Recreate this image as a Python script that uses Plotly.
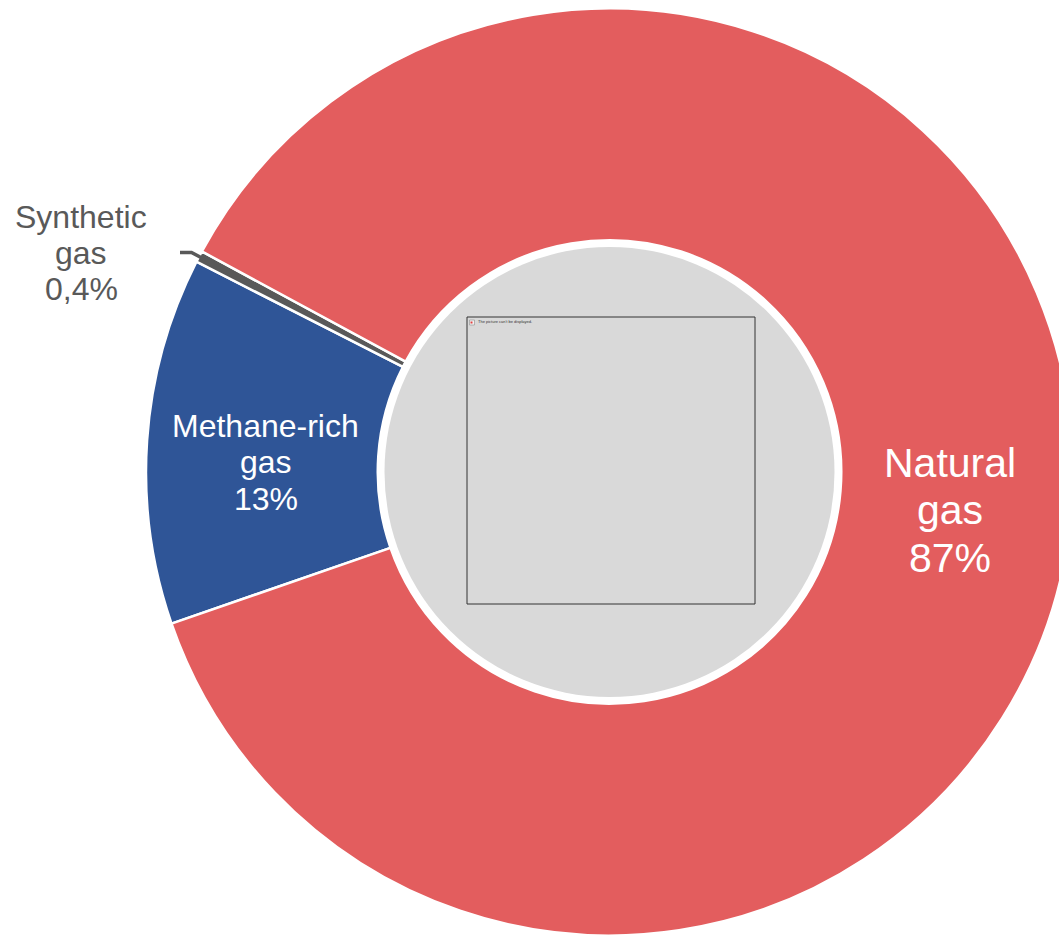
import math
import plotly.graph_objects as go

# ---- data ----
labels = ["Methane-rich gas", "Synthetic gas", "Natural gas"]
values = [12.8, 0.4, 86.8]
pct_text = ["13%", "0,4%", "87%"]
label_lines = [["Methane-rich", "gas"], ["Synthetic", "gas"], ["Natural", "gas"]]
colors = ["#2F5597", "#595959", "#E35D5E"]

# ---- geometry (pixels) ----
W, H = 1100, 937
CX, CY, R = 609.5, 472.0, 463.5
HOLE = 0.5
ROT = -109.1  # clockwise degrees from 12 o'clock


def px(x):
    return x / W


def py(y):
    return (H - y) / H


fig = go.Figure()
fig.add_trace(go.Pie(
    labels=labels,
    values=values,
    sort=False,
    direction="clockwise",
    rotation=ROT,
    hole=HOLE,
    textinfo="none",
    hoverinfo="label+percent",
    marker=dict(colors=colors, line=dict(color="white", width=2.5)),
    domain=dict(x=[px(CX - R), px(CX + R)], y=[py(CY + R), py(CY - R)]),
    showlegend=False,
))

shapes = []
# grey centre disc
RG = 225
shapes.append(dict(type="circle", xref="paper", yref="paper",
                   x0=px(CX - RG), x1=px(CX + RG), y0=py(CY + RG), y1=py(CY - RG),
                   fillcolor="#D9D9D9", line=dict(width=0), layer="above"))
# broken picture placeholder frame
shapes.append(dict(type="rect", xref="paper", yref="paper",
                   x0=px(467), x1=px(755), y0=py(604), y1=py(317),
                   fillcolor="rgba(0,0,0,0)", line=dict(color="#333333", width=1)))
shapes.append(dict(type="rect", xref="paper", yref="paper",
                   x0=px(469.5), x1=px(474.5), y0=py(325), y1=py(320),
                   fillcolor="#F2F2F2", line=dict(color="#999999", width=0.7)))
shapes.append(dict(type="rect", xref="paper", yref="paper",
                   x0=px(470.5), x1=px(472.5), y0=py(323.5), y1=py(321.5),
                   fillcolor="#E04040", line=dict(width=0)))

# leader line for the synthetic gas slice (end point from the slice mid-angle)
total = sum(values)
cum = values[0] + values[1] / 2
ang_cw = ROT + 360 * cum / total
theta = math.radians(90 - ang_cw)
ex = CX + R * 0.985 * math.cos(theta)
ey = CY - R * 0.985 * math.sin(theta)
shapes.append(dict(type="path", xref="paper", yref="paper",
                   path=f"M {px(180)},{py(252.5)} L {px(191.5)},{py(252.5)} L {px(ex)},{py(ey)}",
                   line=dict(color="#595959", width=3.5)))

annotations = []


def add_label(lines, cx, base1, size, color, spacing):
    for i, t in enumerate(lines):
        base = base1 + i * spacing
        annotations.append(dict(
            x=px(cx), y=py(base - 0.35 * size), xref="paper", yref="paper",
            text=t, showarrow=False, xanchor="center", yanchor="middle",
            font=dict(family="Liberation Sans, Arial, sans-serif", size=size, color=color)))


add_label(label_lines[0] + [pct_text[0]], 265.5, 437, 32, "white", 36.5)
add_label(label_lines[1] + [pct_text[1]], 81, 228, 32, "#595959", 36)
add_label(label_lines[2] + [pct_text[2]], 949.5, 477, 41, "white", 47.5)

annotations.append(dict(
    x=px(476), y=py(321.5), xref="paper", yref="paper", text="The picture can't be displayed.",
    showarrow=False, xanchor="left", yanchor="middle",
    font=dict(family="Liberation Sans, Arial, sans-serif", size=4, color="#333333")))

fig.update_layout(
    width=W, height=H,
    margin=dict(l=0, r=0, t=0, b=0),
    paper_bgcolor="white", plot_bgcolor="white",
    shapes=shapes, annotations=annotations,
)

fig.write_html(
    "out.html",
    config={"displayModeBar": False},
    post_script="document.body.style.margin='0';document.body.style.overflow='hidden';"
                "document.documentElement.style.overflow='hidden';",
)
